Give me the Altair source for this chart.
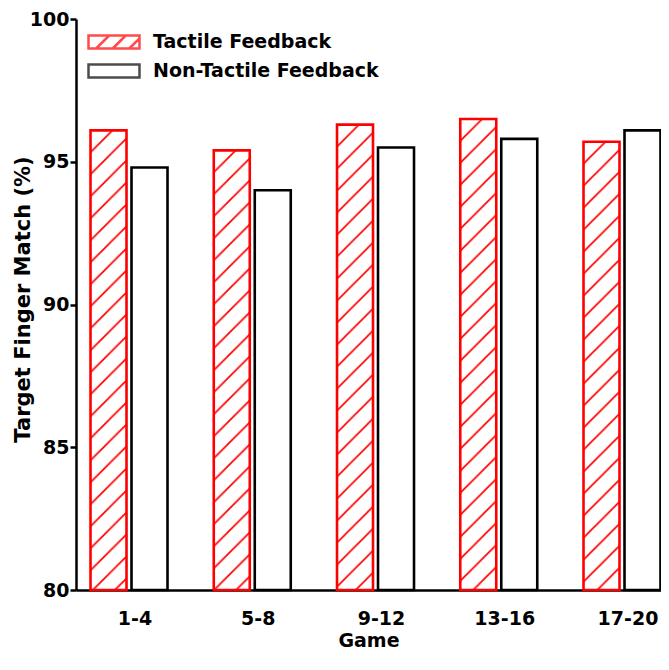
import altair as alt
import pandas as pd
from urllib.parse import quote

# ---- data ----
games = ["1-4", "5-8", "9-12", "13-16", "17-20"]
tactile = [96.1, 95.4, 96.3, 96.5, 95.7]
non_tactile = [94.8, 94.0, 95.5, 95.8, 96.1]
series_names = ["Tactile Feedback", "Non-Tactile Feedback"]
y_ticks = [80, 85, 90, 95, 100]

rows = []
for g, t, n in zip(games, tactile, non_tactile):
    rows.append({"game": g, "series": series_names[0], "value": t})
    rows.append({"game": g, "series": series_names[1], "value": n})
df = pd.DataFrame(rows)

FONT = "DejaVu Sans"
RED = "#ff0000"

# diagonal hatch tile used as the fill of the tactile bars
hatch_svg = (
    "<svg xmlns='http://www.w3.org/2000/svg' width='100%' height='100%'>"
    "<defs><pattern id='h' width='22' height='22' patternUnits='userSpaceOnUse'>"
    "<path d='M-2,24 L24,-2 M-13,13 L13,-13 M9,35 L35,9' stroke='#ff0000' stroke-width='1.7'/>"
    "</pattern></defs><rect width='100%' height='100%' fill='url(#h)'/></svg>"
)
hatch_uri = "data:image/svg+xml;charset=utf-8," + quote(hatch_svg)

# legend symbols (unit coordinates, wide flat boxes)
hatch_path = ("M-2,-0.51H2V0.51H-2Z M-1.4,0.51L-0.38,-0.51 "
              "M-0.1,0.51L0.92,-0.51 M1.2,0.51L2,-0.29")
rect_path = "M-2,-0.51H2V0.51H-2Z"

x_enc = alt.X(
    "game:N", sort=games,
    scale=alt.Scale(domain=games, paddingInner=0.3753, paddingOuter=0.0609, align=0.967),
    axis=alt.Axis(title="Game", labelAngle=0, ticks=False, tickSize=0, labelPadding=19,
                  labelOffset=6, domainColor="black", domainWidth=2.5, titlePadding=3),
)
xo_enc = alt.XOffset(
    "series:N", sort=series_names,
    scale=alt.Scale(domain=series_names, paddingInner=0.122, paddingOuter=0),
)
y_enc = alt.Y(
    "value:Q",
    scale=alt.Scale(domain=[80, 100], zero=False, nice=False),
    axis=alt.Axis(title="Target Finger Match (%)", values=y_ticks, tickSize=6, tickWidth=2.5,
                  tickColor="black", domainColor="black", domainWidth=2.5, labelPadding=1,
                  grid=False, titlePadding=-4, titleY=280),
)

base = alt.Chart(df)

hatch = base.transform_filter(alt.datum.series == series_names[0]).mark_image(aspect=False).encode(
    x=x_enc, xOffset=xo_enc, y=y_enc, y2=alt.datum(80), url=alt.value(hatch_uri)
)
red_bars = base.transform_filter(alt.datum.series == series_names[0]).mark_bar(
    fill=RED, fillOpacity=0, stroke=RED, strokeWidth=2.6
).encode(x=x_enc, xOffset=xo_enc, y=y_enc, y2=alt.datum(80))
black_bars = base.transform_filter(alt.datum.series == series_names[1]).mark_bar(
    fill="white", stroke="black", strokeWidth=2.6
).encode(x=x_enc, xOffset=xo_enc, y=y_enc, y2=alt.datum(80))

leg = alt.Legend(title=None, orient="none", legendX=24, legendY=9, symbolSize=650,
                 symbolStrokeWidth=2.5, labelOffset=25, labelFont=FONT, labelFontSize=19,
                 labelFontWeight="bold", labelColor="black", labelLimit=0,
                 rowPadding=3, padding=0)
legend_layer = base.transform_filter("false").mark_point(filled=False, strokeWidth=2.5).encode(
    shape=alt.Shape("series:N", scale=alt.Scale(domain=series_names, range=[hatch_path, rect_path]),
                    legend=leg),
    stroke=alt.Stroke("series:N", scale=alt.Scale(domain=series_names, range=[RED, "black"]),
                      legend=leg),
)

chart = alt.layer(hatch, red_bars, black_bars, legend_layer).properties(
    width=585, height=571,
    autosize=alt.AutoSizeParams(type="none"),
    padding={"left": 68, "top": 11, "right": 0, "bottom": 64},
).configure_view(stroke=None).configure_axis(
    labelFont=FONT, labelFontSize=19, labelFontWeight="bold", labelColor="black",
    titleFont=FONT, titleFontSize=21, titleFontWeight="bold", titleColor="black",
).configure_axisX(titleFontSize=19)

chart.save("out.html", embed_options={"renderer": "svg", "actions": False})
